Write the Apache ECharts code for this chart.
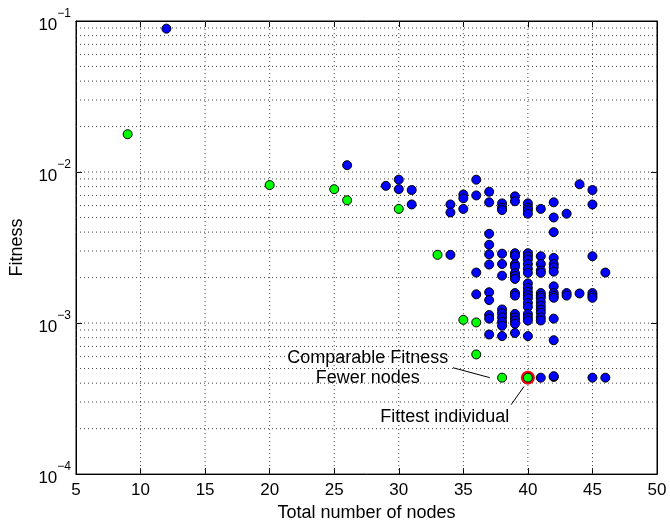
<!DOCTYPE html>
<html>
<head>
<meta charset="utf-8">
<script src="https://cdn.jsdelivr.net/npm/echarts@6/dist/echarts.min.js"></script>
<style>
  html, body { margin: 0; padding: 0; background: #ffffff; }
  #chart { width: 670px; height: 527px; }
</style>
</head>
<body>
<div id="chart"></div>
<script>
// Node counts and fitness values of the evolved individuals
const blueNodes = [
  12, 26, 29, 30, 30, 31, 31,
  34, 34, 34,
  35, 35, 35,
  36, 36, 36, 36,
  37, 37, 37, 37, 37, 37, 37, 37, 37, 37, 37,
  38, 38, 38, 38, 38, 38, 38, 38, 38, 38, 38, 38,
  39, 39, 39, 39, 39, 39, 39, 39, 39, 39, 39, 39, 39, 39, 39, 39,
  40, 40, 40, 40, 40, 40, 40, 40, 40, 40, 40, 40, 40, 40, 40, 40, 40, 40, 40, 40, 40,
  41, 41, 41, 41, 41, 41, 41, 41, 41, 41, 41, 41, 41, 41, 41,
  42, 42, 42, 42, 42, 42, 42, 42, 42, 42, 42, 42, 42, 42, 42,
  43, 43, 43,
  44, 44,
  45, 45, 45, 45, 45, 45, 45,
  46, 46
];
const blueFitness = [
  0.089, 0.0111, 0.0081, 0.0089, 0.0077, 0.0076, 0.0061,
  0.0061, 0.0054, 0.00283,
  0.0071, 0.0067, 0.0057,
  0.0089, 0.0070, 0.00216, 0.00155,
  0.0074, 0.0063, 0.0039, 0.0033, 0.00285, 0.00244, 0.0016, 0.00142, 0.00113, 0.00107, 0.00084,
  0.0062, 0.0058, 0.0056, 0.00288, 0.00246, 0.00206, 0.00123, 0.00116, 0.00109, 0.00102, 0.00096, 0.00082,
  0.0069, 0.0064, 0.0029, 0.00278, 0.00245, 0.00236, 0.00214, 0.00205, 0.00196, 0.00158, 0.00152, 0.00115, 0.00109, 0.00104, 0.00099, 0.00086,
  0.0062, 0.0058, 0.0056, 0.0053, 0.0029, 0.00277, 0.00264, 0.00246, 0.00229, 0.00215, 0.00183, 0.00171, 0.00161, 0.00153, 0.00146, 0.00136, 0.00128, 0.00115, 0.00109, 0.00104, 0.00082,
  0.0057, 0.00277, 0.00246, 0.00223, 0.00215, 0.00158, 0.00152, 0.00147, 0.00138, 0.0013, 0.00123, 0.00117, 0.00109, 0.00104, 0.000435,
  0.0063, 0.0050, 0.0040, 0.0027, 0.00246, 0.00234, 0.00219, 0.00175, 0.00158, 0.00152, 0.00147, 0.00107, 0.00077, 0.00044, 0.000445,
  0.0053, 0.00158, 0.00152,
  0.0083, 0.00157,
  0.0076, 0.0061, 0.00277, 0.00158, 0.00152, 0.00147, 0.000435,
  0.00216, 0.000435
];
const greenNodes   = [9, 20, 25, 26, 30, 33, 35, 36, 36, 38, 40];
const greenFitness = [0.0178, 0.0082, 0.0077, 0.0065, 0.0057, 0.00283, 0.00105, 0.00101, 0.00062, 0.000435, 0.000435];
const fittestNodes   = [40];
const fittestFitness = [0.000435];

// Axis ticks
const xTicks = [5, 10, 15, 20, 25, 30, 35, 40, 45, 50];
const yDecades = [1e-4, 1e-3, 1e-2, 1e-1];
const minorFactors = [2, 3, 4, 5, 6, 7, 8, 9];

const zip = (xs, ys) => xs.map((x, i) => [x, ys[i]]);
const FONT = '"Liberation Sans", Arial, Helvetica, sans-serif';
const X0 = xTicks[0], X1 = xTicks[xTicks.length - 1];
const Y0 = yDecades[0], Y1 = yDecades[yDecades.length - 1];

// dotted grid: vertical lines at the inner x ticks, horizontal lines at decades and 2..9 x 10^n
const gridSeries = [];
const dotted = () => ({ color: '#404040', width: 1, type: [1, 3] });
xTicks.slice(1, -1).forEach(x => gridSeries.push({
  type: 'line', silent: true, showSymbol: false, symbol: 'none', z: 1, animation: false,
  lineStyle: dotted(), data: [[x, Y0], [x, Y1]]
}));
const hValues = [];
yDecades.slice(0, -1).forEach((d, i) => {
  if (i > 0) hValues.push(d);
  minorFactors.forEach(f => hValues.push(d * f));
});
hValues.forEach(y => gridSeries.push({
  type: 'line', silent: true, showSymbol: false, symbol: 'none', z: 1, animation: false,
  lineStyle: dotted(), data: [[X0, y], [X1, y]]
}));

const chart = echarts.init(document.getElementById('chart'), null, { renderer: 'canvas' });

const tickStyle = { show: true, inside: true, length: 6, lineStyle: { color: '#000', width: 1 } };

chart.setOption({
  animation: false,
  backgroundColor: '#ffffff',
  textStyle: { fontFamily: FONT },
  grid: { left: 72, right: 13, top: 21, bottom: 46, show: true, borderColor: '#000', borderWidth: 1, backgroundColor: 'transparent' },
  xAxis: [{
    type: 'value', min: X0, max: X1, interval: 5,
    name: 'Total number of nodes', nameLocation: 'middle', nameGap: 27,
    nameTextStyle: { color: '#000', fontSize: 18, fontFamily: FONT },
    axisLine: { show: true, lineStyle: { color: '#000', width: 1 } },
    axisTick: tickStyle,
    axisLabel: { color: '#000', fontSize: 17, fontFamily: FONT, margin: 8, showMinLabel: true, showMaxLabel: true },
    splitLine: { show: false }
  }, {
    type: 'value', position: 'top', min: X0, max: X1, interval: 5,
    axisLine: { show: true, lineStyle: { color: '#000' } },
    axisTick: tickStyle,
    axisLabel: { show: false }, splitLine: { show: false }
  }],
  yAxis: [{
    type: 'log', logBase: 10, min: Y0, max: Y1,
    name: 'Fitness', nameLocation: 'middle', nameGap: 50,
    nameTextStyle: { color: '#000', fontSize: 18, fontFamily: FONT },
    axisLine: { show: true, lineStyle: { color: '#000', width: 1 } },
    axisTick: tickStyle,
    axisLabel: {
      color: '#000', margin: 5, showMinLabel: true, showMaxLabel: true,
      formatter: v => {
        const e = Math.round(Math.log10(v));
        return '{b|10}{s|' + (e < 0 ? '\u2212' : '') + Math.abs(e) + '}';
      },
      rich: {
        b: { fontSize: 17, fontFamily: FONT, color: '#000', lineHeight: 26, verticalAlign: 'bottom' },
        s: { fontSize: 12, fontFamily: FONT, color: '#000', lineHeight: 26, verticalAlign: 'top' }
      }
    },
    splitLine: { show: false }
  }, {
    type: 'log', logBase: 10, position: 'right', min: Y0, max: Y1,
    axisLine: { show: true, lineStyle: { color: '#000' } },
    axisTick: tickStyle,
    axisLabel: { show: false }, splitLine: { show: false }
  }],
  series: gridSeries.concat([
    {
      name: 'population', type: 'scatter', symbol: 'circle', symbolSize: 9, z: 3,
      itemStyle: { color: '#0000ff', borderColor: '#000', borderWidth: 1, opacity: 1 },
      data: zip(blueNodes, blueFitness)
    },
    {
      name: 'fittest ring', type: 'scatter', symbol: 'circle', symbolSize: 14, z: 3,
      itemStyle: { color: '#ff0000', borderColor: '#ff0000', borderWidth: 0, opacity: 1 },
      data: zip(fittestNodes, fittestFitness)
    },
    {
      name: 'selected', type: 'scatter', symbol: 'circle', symbolSize: 9, z: 3,
      itemStyle: { color: '#00ff00', borderColor: '#000', borderWidth: 1, opacity: 1 },
      data: zip(greenNodes, greenFitness),
      markLine: {
        silent: true, symbol: ['none', 'arrow'], symbolSize: [0, 11],
        label: { show: false },
        lineStyle: { color: '#000', width: 1, type: 'solid' },
        data: [
          [{ coord: [34.2, 5.06e-4] }, { coord: [37.05, 4.35e-4] }],
          [{ coord: [38.7, 2.88e-4] }, { coord: [39.7, 3.8e-4] }]
        ]
      },
      markPoint: {
        silent: true, symbol: 'circle', symbolSize: 0,
        label: { show: true, position: 'inside', color: '#000', fontSize: 18, fontFamily: FONT, lineHeight: 20, align: 'center' },
        data: [
          { coord: [27.6, 5.01e-4], value: 0, label: { formatter: 'Comparable Fitness\nFewer nodes' } },
          { coord: [33.56, 2.39e-4], value: 0, label: { formatter: 'Fittest individual' } }
        ]
      }
    }
  ])
});
</script>
</body>
</html>
